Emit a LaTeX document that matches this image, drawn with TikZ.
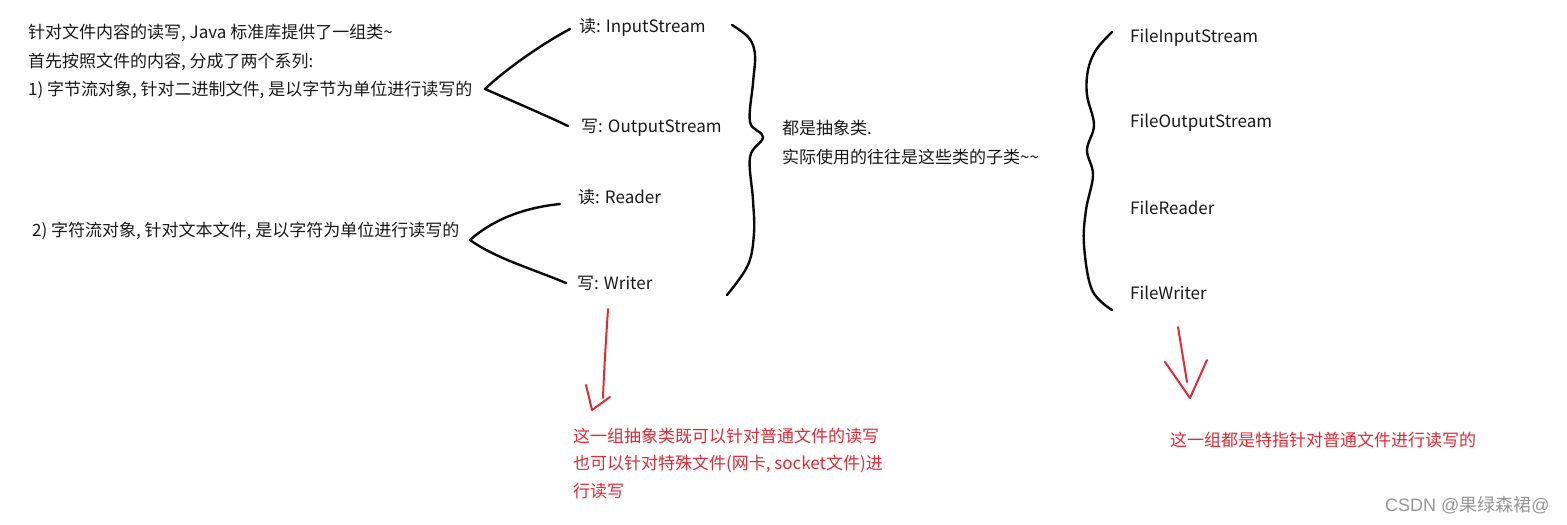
\documentclass[tikz,border=0pt]{standalone}
\usepackage{fontspec}
\setmainfont{Noto Sans CJK SC}
\newfontfamily\wmlatin{Liberation Sans}
\definecolor{ink}{RGB}{25,25,25}
\definecolor{pen}{RGB}{10,10,10}
\definecolor{redpen}{RGB}{228,40,52}
\definecolor{wm}{RGB}{150,150,150}
\begin{document}
\begin{tikzpicture}[x=1pt,y=-1pt,
  txt/.style={anchor=west,inner sep=0pt,text=ink,font=\fontsize{17}{19}\selectfont},
  redtxt/.style={anchor=west,inner sep=0pt,text=redpen,font=\fontsize{17}{19}\selectfont},
  stroke/.style={draw=pen,line width=2.4pt,line cap=round,line join=round},
  redstroke/.style={draw=redpen,line width=2pt,line cap=round,line join=round}]
\useasboundingbox[fill=white] (0,0) rectangle (1567,525);

% left text
\node[txt] (l1) at (28,33) {针对文件内容的读写, Java 标准库提供了一组类\textasciitilde};
\node[txt] (l2) at (28,62) {首先按照文件的内容, 分成了两个系列:};
\node[txt] (l3) at (28,90) {1) 字节流对象, 针对二进制文件, 是以字节为单位进行读写的};
\node[txt] (l4) at (32,231) {2) 字符流对象, 针对文本文件, 是以字符为单位进行读写的};

% abstract classes
\node[txt] (in) at (579,27) {读: InputStream};
\node[txt] (out) at (581,128) {写: OutputStream};
\node[txt] (rd) at (578,197) {读: Reader};
\node[txt] (wr) at (577,283) {写: Writer};

% fork apexes
\coordinate (a1) at (485,89);
\coordinate (a2) at (470,240);
\draw[stroke] (a1) .. controls (505,70) and (540,45) .. (570,29);
\draw[stroke] (a1) .. controls (510,100) and (545,115) .. (568,126);
\draw[stroke] (a2) .. controls (490,222) and (520,208) .. (560,204);
\draw[stroke] (a2) .. controls (495,258) and (530,268) .. (566,283);

% big brace
\draw[stroke] plot[smooth,tension=0.6] coordinates {(732,25) (749,38) (755,55) (753,83) (750,122) (763,137) (750,157) (753,200) (754,233) (748,265) (727,295)};

\node[txt] (abs1) at (782,128) {都是抽象类.};
\node[txt] (abs2) at (782,157) {实际使用的往往是这些类的子类\textasciitilde\textasciitilde};

% right brace
\draw[stroke] plot[smooth,tension=0.6] coordinates {(1112,32) (1096,50) (1088,70) (1087,95) (1094,125) (1087,150) (1093,175) (1086,210) (1084,245) (1092,290) (1112,310)};

\node[txt] (fis) at (1130,38) {FileInputStream};
\node[txt] (fos) at (1130,123) {FileOutputStream};
\node[txt] (fr) at (1130,208) {FileReader};
\node[txt] (fw) at (1130,293) {FileWriter};

% red arrow 1
\coordinate (r1s) at (608,309);
\coordinate (r1e) at (603,398);
\draw[redstroke] (r1s) .. controls (606,340) and (604,370) .. (r1e);
\draw[redstroke] (586,385) -- (592,410) -- (610,397);

\node[redtxt] (n1a) at (573,436) {这一组抽象类既可以针对普通文件的读写};
\node[redtxt] (n1b) at (573,464) {也可以针对特殊文件(网卡, socket文件)进};
\node[redtxt] (n1c) at (573,491) {行读写};

% red arrow 2
\coordinate (r2s) at (1178,327);
\coordinate (r2e) at (1187,382);
\draw[redstroke] (r2s) -- (r2e);
\draw[redstroke] (1165,362) -- (1190,398) -- (1207,360);

\node[redtxt] (n2) at (1170,440) {这一组都是特指针对普通文件进行读写的};

% watermark
\node[anchor=west,inner sep=0pt,text=wm,font=\fontsize{18}{20}\selectfont] (wmk) at (1385,505) {{\wmlatin CSDN @}果绿森裙{\wmlatin @}};
\end{tikzpicture}
\end{document}
